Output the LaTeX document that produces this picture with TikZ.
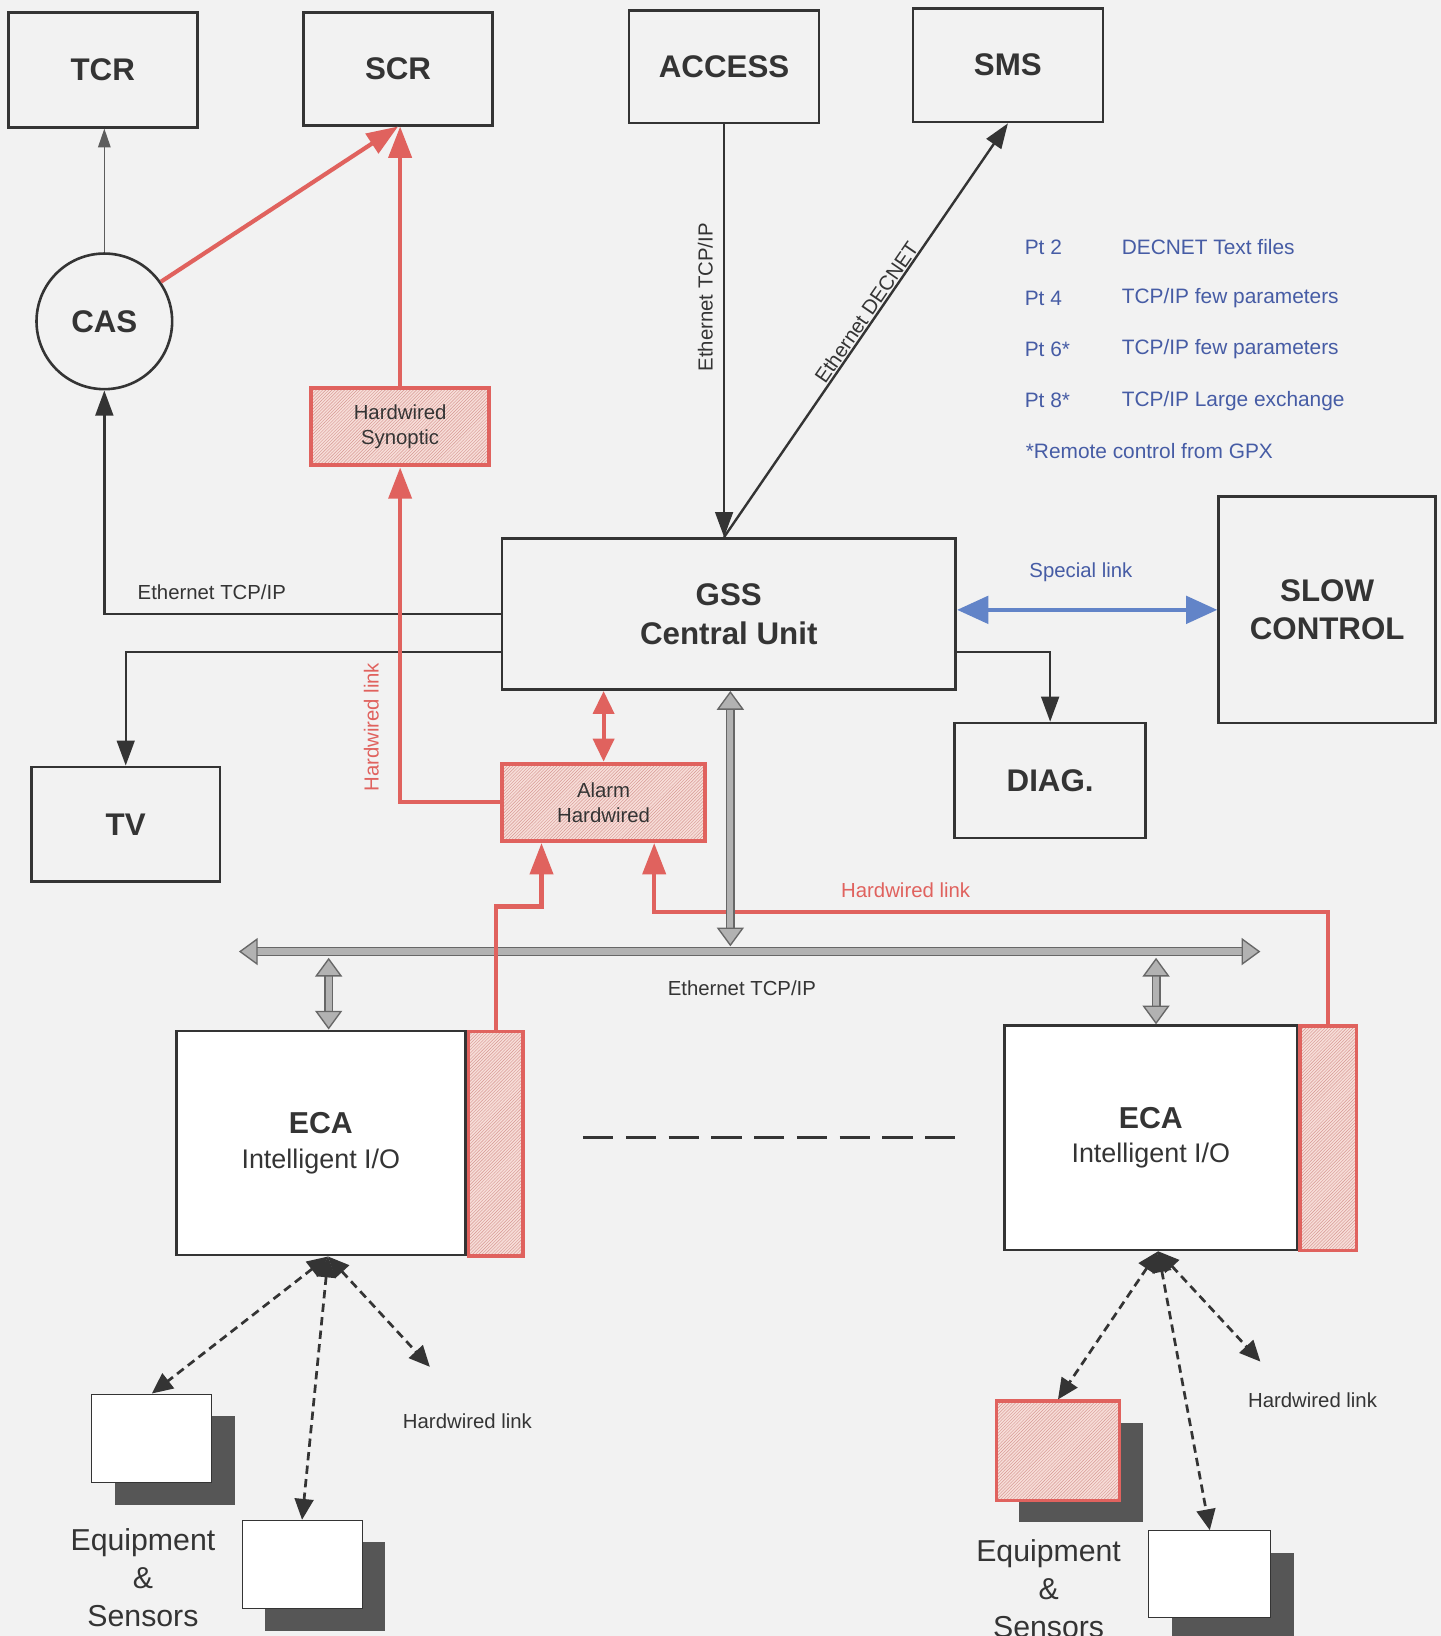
\documentclass[tikz,border=0pt]{standalone}
\usepackage{fontspec}
\setmainfont{Liberation Sans}
\usetikzlibrary{calc}
\usetikzlibrary{positioning}
\usetikzlibrary{arrows.meta,patterns,shadows}

\definecolor{paper}{RGB}{242,242,242}
\definecolor{inkgray}{RGB}{52,52,52}
\definecolor{hwred}{RGB}{224,98,94}
\definecolor{hwpink}{RGB}{247,222,217}
\definecolor{hwhatch}{RGB}{214,150,145}
\definecolor{splblue}{RGB}{98,132,200}
\definecolor{legblue}{RGB}{70,92,165}
\definecolor{shade}{RGB}{86,86,86}
\definecolor{busfill}{RGB}{178,178,178}

\newcommand\boxfont{\fontsize{30}{37}\selectfont\bfseries}
\newcommand\labfont{\fontsize{19.5}{24}\selectfont}
\newcommand\ecafont{\fontsize{25.8}{33}\selectfont}
\newcommand\eqfont{\fontsize{29}{36.5}\selectfont}

\tikzset{
  unit/.style={draw=inkgray, line width=2.5pt, text=inkgray, font=\boxfont, align=center},
  eca/.style={unit, fill=white, font=\ecafont},
  hwbox/.style={draw=hwred, line width=4pt, preaction={fill=hwpink}, pattern=north east lines,
    pattern color=hwhatch, text=inkgray, font=\labfont, align=center},
  hwbar/.style={draw=hwred, line width=3.5pt, preaction={fill=hwpink}, pattern=north east lines,
    pattern color=hwhatch},
  equip/.style={draw=inkgray, line width=0.8pt, fill=white, minimum width=115pt, minimum height=85pt,
    drop shadow={shadow xshift=22pt, shadow yshift=-21pt, fill=shade, opacity=1}},
  eqtext/.style={text=inkgray, font=\eqfont, align=center},
  label/.style={text=inkgray, font=\labfont, inner sep=1pt},
  legend/.style={text=legblue, font=\fontsize{20}{24}\selectfont, anchor=west, inner sep=0pt},
  thinlink/.style={draw=inkgray!80, line width=1.2pt},
  netlink/.style={draw=inkgray, line width=2.3pt},
  redlink/.style={draw=hwred, line width=4pt, -{Triangle[width=22pt,length=30pt]}},
  bluelink/.style={draw=splblue, line width=4.5pt,
    {Triangle[width=26pt,length=30pt]}-{Triangle[width=26pt,length=30pt]}},
  buslink/.style={draw=inkgray!75, line width=1.3pt, double=busfill, double distance=6pt,
    {Triangle[fill=busfill,width=26pt,length=18pt]}-{Triangle[fill=busfill,width=26pt,length=18pt]}},
  iolink/.style={draw=inkgray, line width=2.6pt, dash pattern=on 8pt off 5pt,
    {Triangle[width=18pt,length=20pt]}-{Triangle[width=18pt,length=20pt]}},
  dashline/.style={draw=inkgray, line width=3pt, dash pattern=on 29pt off 12pt},
}

\begin{document}
\begin{tikzpicture}[x=1pt, y=-1pt, >={Triangle[width=17pt,length=24pt]}]
  \fill[paper] (0,0) rectangle (1381,1568);
  \useasboundingbox (0,0) rectangle (1381,1568);

  % control rooms
  \node[unit, minimum width=181pt, minimum height=110pt] (tcr) at (98.5,67) {TCR};
  \node[unit, minimum width=181pt, minimum height=108pt] (scr) at (381.5,66) {SCR};
  \node[unit, minimum width=182pt, minimum height=108pt] (access) at (694,64) {ACCESS};
  \node[unit, minimum width=182pt, minimum height=109pt] (sms) at (966,62.5) {SMS};

  \node[unit, circle, minimum size=130pt] (cas) at (100,308) {CAS};
  \node[hwbox, minimum width=171pt, minimum height=74pt] (synoptic) at (383.5,409) {Hardwired\\Synoptic};

  \node[unit, minimum width=435pt, minimum height=145pt] (gss) at (698.5,588.5) {GSS\\Central Unit};
  \node[unit, minimum width=208pt, minimum height=217pt] (slow) at (1272,584.5) {SLOW\\CONTROL};
  \node[unit, minimum width=183pt, minimum height=110pt] (diag) at (1006.5,748) {DIAG.};
  \node[unit, minimum width=181pt, minimum height=110pt] (tv) at (120.5,790) {TV};
  \node[hwbox, minimum width=195pt, minimum height=74pt] (alarm) at (578.5,769) {Alarm\\Hardwired};

  % legend
  \foreach \pt/\txt [count=\i] in {{Pt 2}/{DECNET Text files}, {Pt 4}/{TCP/IP few parameters},
      {Pt 6*}/{TCP/IP few parameters}, {Pt 8*}/{TCP/IP Large exchange}} {
    \node[legend] (leg\i) at (982,188+49*\i) {\pt};
    \node[legend] (legtxt\i) at (1075,188+49*\i) {\txt};
  }
  \node[legend] (legnote) at (983,432) {*Remote control from GPX};

  % ECA crates
  \node[eca, minimum width=277pt, minimum height=215pt] (ecaL) at (307.5,1095.5)
    {{\fontsize{29}{33}\selectfont\bfseries ECA}\\Intelligent I/O};
  \node[hwbar, anchor=north west, minimum width=52pt, minimum height=215pt] (barL) at (ecaL.north east) {};
  \node[eca, minimum width=280pt, minimum height=215pt] (ecaR) at (1103,1090.5)
    {{\fontsize{29}{33}\selectfont\bfseries ECA}\\Intelligent I/O};
  \node[hwbar, anchor=north west, minimum width=54pt, minimum height=215pt] (barR) at (ecaR.north east) {};

  % field equipment
  \node[equip] (eqL1) at (145.5,1378.5) {};
  \node[equip] (eqL2) at (289.5,1499.5) {};
  \node[draw=hwred, line width=3.5pt, minimum width=118pt, minimum height=95pt,
    drop shadow={shadow xshift=22pt, shadow yshift=-21pt, fill=shade, opacity=1},
    preaction={fill=hwpink}, pattern=north east lines, pattern color=hwhatch] (eqR1) at (1014,1390.5) {};
  \node[equip, minimum width=117pt, minimum height=83pt] (eqR2) at (1159.5,1508.5) {};
  \node[eqtext] (sensL) at (137,1512) {Equipment\\\&\\Sensors};
  \node[eqtext] (sensR) at (1005,1523) {Equipment\\\&\\Sensors};

  % links to the control rooms
  \draw[thinlink, -{Triangle[width=12pt,length=18pt]}] (cas.north) -- (cas.north |- tcr.south);
  \draw[redlink] (cas.35) -- (scr.south);
  \draw[redlink] (synoptic.north) -- (synoptic.north |- scr.south);

  \draw[netlink, ->] (gss.west) -| (cas.south);
  \node[label] (ethcas) at (203,568) {Ethernet TCP/IP};
  \draw[netlink, ->] ($(gss.west)+(0,36.5)$) -| (tv.north);

  \draw[redlink] (alarm.west) -| (synoptic.south);
  \node[label, text=hwred, rotate=90] (hwsyn) at (356,697) {Hardwired link};
  \draw[redlink, {Triangle[width=20pt,length=22pt]}-{Triangle[width=20pt,length=22pt]}]
    (alarm.north |- gss.south) -- (alarm.north);

  \draw[netlink, ->] (access.south) -- (access.south |- gss.north);
  \node[label, rotate=90] (ethacc) at (676,285) {Ethernet TCP/IP};
  \draw[netlink, ->] (access.south |- gss.north) -- (sms.south)
    node[label, sloped, above, pos=0.53] (decnet) {Ethernet DECNET};

  \draw[bluelink] (gss.east |- slow.west) -- (slow.west);
  \node[label, text=legblue] (special) at (1036,548) {Special link};
  \draw[netlink, ->] ($(gss.east)+(0,36.5)$) -| (diag.north);

  % ethernet bus
  \coordinate (busW) at (229,912);
  \coordinate (busE) at (1208,912);
  \coordinate (tapL) at (315,918);
  \coordinate (tapR) at (1108,918);
  \coordinate (tapG) at (700,907);
  \draw[buslink] (busW) -- (busE);
  \node[label] (ethbus) at (711,947) {Ethernet TCP/IP};
  \draw[buslink] (tapL) -- (tapL |- ecaL.north);
  \draw[buslink] (tapR) -- (tapR |- ecaR.north);

  % hardwired lines back to the alarm unit
  \draw[redlink] (barL.north) -- ++(0,-118) -| ([xshift=-59.5pt]alarm.south);
  \draw[redlink] (barR.north) -- ++(0,-108) -| ([xshift=48.5pt]alarm.south);
  \node[label, text=hwred] (hwalarm) at (868,853) {Hardwired link};
  \draw[buslink] (tapG |- gss.south) -- (tapG);

  \draw[dashline, shorten <=56pt, shorten >=45pt] (barL.east |- ecaR.west) -- (ecaR.west);

  % field links
  \coordinate (hwL) at (412,1310);
  \coordinate (hwR) at (1208,1305);
  \draw[iolink] ([xshift=7pt]ecaL.south) -- (eqL1.north);
  \draw[iolink] ([xshift=7pt]ecaL.south) -- (eqL2.north);
  \draw[iolink] ([xshift=7pt]ecaL.south) -- (hwL);
  \node[label] (hwlinkL) at (448,1362) {Hardwired link};
  \draw[iolink] ([xshift=7pt]ecaR.south) -- (eqR1.north);
  \draw[iolink] ([xshift=7pt]ecaR.south) -- (eqR2.north);
  \draw[iolink] ([xshift=7pt]ecaR.south) -- (hwR);
  \node[label] (hwlinkR) at (1258,1342) {Hardwired link};
\end{tikzpicture}
\end{document}
